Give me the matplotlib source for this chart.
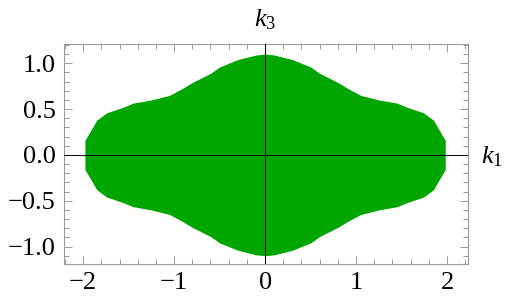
import matplotlib
matplotlib.use("Agg")
import matplotlib.pyplot as plt
from matplotlib.ticker import MultipleLocator
import numpy as np

plt.rcParams['font.family'] = ['Liberation Serif', 'DejaVu Serif']
plt.rcParams['mathtext.fontset'] = 'custom'
plt.rcParams['mathtext.it'] = 'Liberation Serif:italic'
plt.rcParams['mathtext.rm'] = 'Liberation Serif'

# upper edge of the region for k1 >= 0 (mirrored)
k1_half = [0.0, 0.1, 0.3, 0.5, 0.6, 0.8, 0.9, 1.05, 1.25, 1.45, 1.56, 1.74, 1.85, 1.92, 1.98]
k3_top = [1.10, 1.09, 1.04, 0.96, 0.89, 0.79, 0.73, 0.65, 0.60, 0.565, 0.52, 0.46, 0.38, 0.26, 0.16]

xticks = [-2, -1, 0, 1, 2]
xtick_labels = ['\u22122', '\u22121', '0', '1', '2']
yticks = [-1.0, -0.5, 0.0, 0.5, 1.0]
ytick_labels = ['\u22121.0', '\u22120.5', '0.0', '0.5', '1.0']

k1 = np.array([-v for v in k1_half[::-1]] + k1_half[1:])
top = np.array(k3_top[::-1] + k3_top[1:])

fig = plt.figure(figsize=(5.07, 3.04), dpi=100)
ax = fig.add_axes([64/507, 40/304, 404/507, 220/304])

green = '#00a600'
ax.fill_between(k1, -top, top, color=green, lw=0, zorder=1)

ax.axhline(0, color='black', lw=0.7, zorder=3)
ax.axvline(0, color='black', lw=0.7, zorder=3)

ax.set_xlim(-2.21, 2.23)
ax.set_ylim(-1.19, 1.21)

ax.set_xticks(xticks)
ax.set_xticklabels(xtick_labels)
ax.set_yticks(yticks)
ax.set_yticklabels(ytick_labels)
ax.xaxis.set_minor_locator(MultipleLocator(0.2))
ax.yaxis.set_minor_locator(MultipleLocator(0.1))

for s in ax.spines.values():
    s.set_color('#999999')
    s.set_linewidth(0.8)
ax.tick_params(which='both', direction='in', top=True, right=True,
               color='#999999', width=0.7, labelsize=19, pad=6)
ax.tick_params(which='major', length=6)
ax.tick_params(which='minor', length=3.5)

ax.text(0, 1.11, '$k_3$', transform=ax.get_xaxis_transform(),
        ha='center', va='center', fontsize=19, clip_on=False)
ax.text(1.06, -0.02, '$k_1$', transform=ax.get_yaxis_transform(),
        ha='center', va='center', fontsize=19, clip_on=False)

fig.savefig('out.png', dpi=100)
